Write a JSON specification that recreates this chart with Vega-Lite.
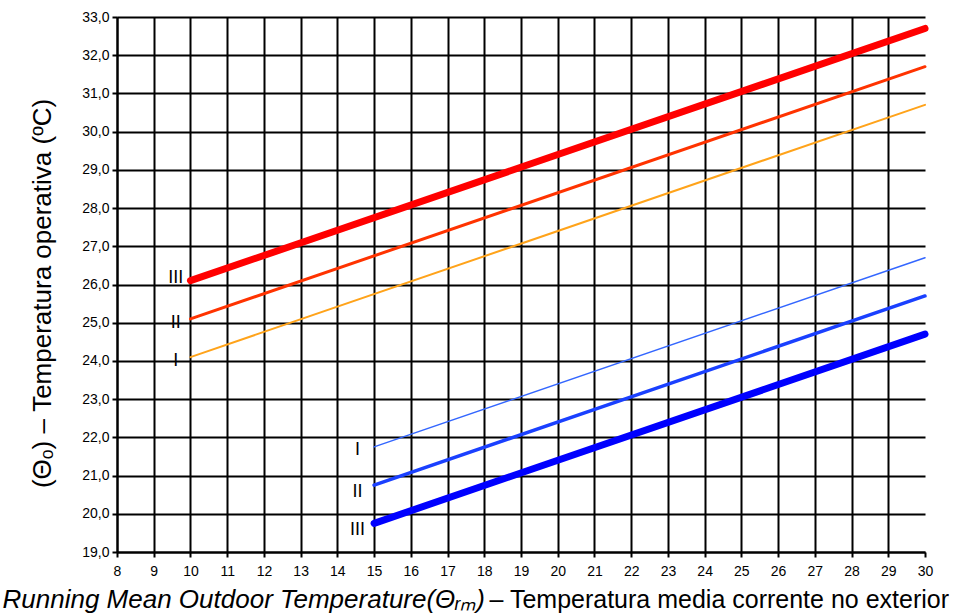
{
  "$schema": "https://vega.github.io/schema/vega-lite/v6.json",
  "width": 808,
  "height": 535,
  "autosize": "none",
  "padding": {"left": 117, "top": 17, "right": 33, "bottom": 62},
  "background": "white",
  "config": {"view": {"stroke": null}, "font": "Liberation Sans"},
  "datasets": {
    "lines": [
      {"series": "III sup", "x": 10, "y": 26.1},
      {"series": "III sup", "x": 30, "y": 32.7},
      {"series": "II sup", "x": 10, "y": 25.1},
      {"series": "II sup", "x": 30, "y": 31.7},
      {"series": "I sup", "x": 10, "y": 24.1},
      {"series": "I sup", "x": 30, "y": 30.7},
      {"series": "I inf", "x": 15, "y": 21.75},
      {"series": "I inf", "x": 30, "y": 26.7},
      {"series": "II inf", "x": 15, "y": 20.75},
      {"series": "II inf", "x": 30, "y": 25.7},
      {"series": "III inf", "x": 15, "y": 19.75},
      {"series": "III inf", "x": 30, "y": 24.7}
    ],
    "labels": [
      {"label": "III", "x": 9.6, "y": 26.18},
      {"label": "II", "x": 9.6, "y": 25.0},
      {"label": "I", "x": 9.6, "y": 24.01},
      {"label": "I", "x": 14.55, "y": 21.68},
      {"label": "II", "x": 14.55, "y": 20.58},
      {"label": "III", "x": 14.55, "y": 19.58}
    ]
  },
  "layer": [
    {
      "data": {"name": "lines"},
      "mark": {"type": "line", "strokeCap": "round"},
      "encoding": {
        "x": {
          "field": "x", "type": "quantitative",
          "scale": {"domain": [8, 30], "nice": false, "zero": false},
          "axis": {
            "values": [8,9,10,11,12,13,14,15,16,17,18,19,20,21,22,23,24,25,26,27,28,29,30],
            "title": "Running Mean Outdoor Temperature(Θᵣₘ)",
            "titleFont": "Liberation Sans", "titleFontStyle": "italic", "titleFontWeight": "normal",
            "titleFontSize": 26, "titleColor": "black",
            "titleAnchor": "start", "titleAlign": "left", "titleBaseline": "alphabetic",
            "titleX": -115, "titleY": 55,
            "labelFontSize": 14, "labelColor": "black", "labelPadding": 7, "labelFlush": false, "labelOverlap": false,
            "tickSize": 5, "tickColor": "black", "tickWidth": 2,
            "domainColor": "black", "domainWidth": 2,
            "grid": true, "gridColor": "black", "gridWidth": 2,
            "gridOpacity": {"condition": {"test": "datum.value == 30", "value": 0}, "value": 1}
          }
        },
        "y": {
          "field": "y", "type": "quantitative",
          "scale": {"domain": [19, 33], "nice": false, "zero": false},
          "axis": {
            "values": [19,20,21,22,23,24,25,26,27,28,29,30,31,32,33],
            "labelExpr": "replace(format(datum.value, '.1f'), '.', ',')",
            "title": "(Θₒ) – Temperatura operativa (ºC)",
            "titleFont": "Liberation Sans", "titleFontWeight": "normal", "titleFontSize": 26, "titleColor": "black",
            "titleAngle": -90, "titleAlign": "center", "titleBaseline": "alphabetic",
            "titleX": -67, "titleY": 276,
            "labelFontSize": 14, "labelColor": "black", "labelPadding": 3, "labelFlush": false, "labelOverlap": false,
            "tickSize": 5, "tickColor": "black", "tickWidth": 2,
            "domainColor": "black", "domainWidth": 2,
            "grid": true, "gridColor": "black", "gridWidth": 2
          }
        },
        "color": {
          "field": "series", "type": "nominal",
          "scale": {
            "domain": ["III sup", "II sup", "I sup", "I inf", "II inf", "III inf"],
            "range": ["#ff0000", "#ff3300", "#ffa31a", "#3366ff", "#1a40ff", "#0000ff"]
          },
          "legend": null
        },
        "strokeWidth": {
          "field": "series", "type": "nominal",
          "scale": {
            "type": "ordinal",
            "domain": ["III sup", "II sup", "I sup", "I inf", "II inf", "III inf"],
            "range": [7, 3, 2, 1.5, 3.5, 7]
          },
          "legend": null
        }
      }
    },
    {
      "data": {"name": "labels"},
      "mark": {"type": "text", "fontSize": 18, "font": "Liberation Sans", "color": "black", "align": "center", "baseline": "middle"},
      "encoding": {
        "x": {
          "field": "x", "type": "quantitative",
          "scale": {"domain": [8, 30], "nice": false, "zero": false},
          "axis": {
            "orient": "bottom",
            "title": "– Temperatura media corrente no exterior",
            "titleFont": "Liberation Sans", "titleFontWeight": "normal", "titleFontSize": 25, "titleColor": "black",
            "titleAnchor": "start", "titleAlign": "left", "titleBaseline": "alphabetic",
            "titleX": 372, "titleY": 55,
            "labels": false, "ticks": false, "domain": false, "grid": false
          }
        },
        "y": {
          "field": "y", "type": "quantitative",
          "scale": {"domain": [19, 33], "nice": false, "zero": false},
          "axis": {
            "values": [19,20,21,22,23,24,25,26,27,28,29,30,31,32,33],
            "labelExpr": "replace(format(datum.value, '.1f'), '.', ',')",
            "title": "(Θₒ) – Temperatura operativa (ºC)",
            "titleFont": "Liberation Sans", "titleFontWeight": "normal", "titleFontSize": 26, "titleColor": "black",
            "titleAngle": -90, "titleAlign": "center", "titleBaseline": "alphabetic",
            "titleX": -67, "titleY": 276,
            "labelFontSize": 14, "labelColor": "black", "labelPadding": 3, "labelFlush": false, "labelOverlap": false,
            "tickSize": 5, "tickColor": "black", "tickWidth": 2,
            "domainColor": "black", "domainWidth": 2,
            "grid": true, "gridColor": "black", "gridWidth": 2
          }
        },
        "text": {"field": "label"}
      }
    }
  ],
  "resolve": {"scale": {"x": "independent"}, "axis": {"x": "independent"}}
}
